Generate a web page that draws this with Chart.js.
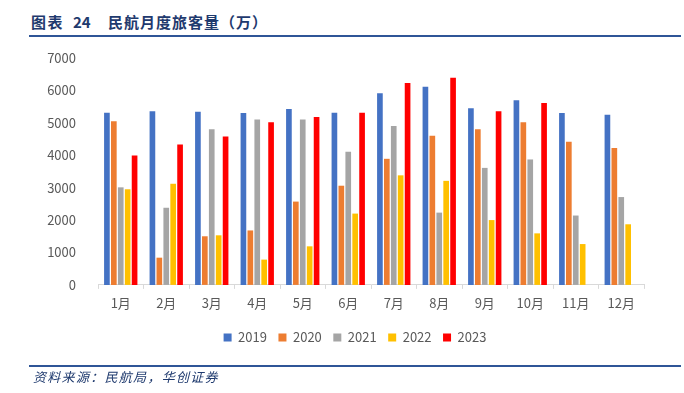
<!DOCTYPE html>
<html>
<head>
<meta charset="utf-8">
<script src="https://cdn.jsdelivr.net/npm/chart.js@4.4.1/dist/chart.umd.min.js"></script>
<style>
  body { margin: 0; background: #fff; }
  #wrap { position: relative; width: 684px; height: 393px; overflow: hidden; }
  .title { position: absolute; top: 12px; font: bold 15px "Noto Sans CJK SC", sans-serif; color: #1f3a6e; white-space: pre; line-height: 20px; }
  .rule { position: absolute; left: 29px; width: 652px; height: 2px; background: #2f5597; }
  #source { position: absolute; left: 33px; top: 367px; font: italic 13px "Noto Sans CJK SC", serif; color: #1f3a6e; letter-spacing: 1.3px; line-height: 20px; }
  canvas { position: absolute; left: 0; top: 0; }
</style>
</head>
<body>
<div id="wrap">
  <div class="title" style="left:31px; letter-spacing:1.5px">图表</div>
  <div class="title" style="left:73px">24</div>
  <div class="title" style="left:108px; letter-spacing:1px">民航月度旅客量（万）</div>
  <div class="rule" style="top:35px"></div>
  <canvas id="c" width="684" height="393"></canvas>
  <div class="rule" style="top:365px"></div>
  <div id="source">资料来源：民航局，华创证券</div>
</div>
<script>
const months = ["1月", "2月", "3月", "4月", "5月", "6月", "7月", "8月", "9月", "10月", "11月", "12月"];
const y2019 = [5310, 5360, 5340, 5300, 5430, 5310, 5910, 6110, 5450, 5700, 5300, 5250];
const y2020 = [5050, 840, 1500, 1680, 2570, 3060, 3890, 4600, 4800, 5020, 4420, 4220];
const y2021 = [3010, 2380, 4800, 5100, 5100, 4110, 4900, 2230, 3610, 3870, 2140, 2710];
const y2022 = [2950, 3120, 1530, 780, 1190, 2200, 3380, 3210, 2000, 1590, 1260, 1870];
const y2023 = [3990, 4330, 4580, 5020, 5180, 5310, 6230, 6390, 5360, 5610, null, null];

const tickColor = "#595959";
const font = { family: "'Noto Sans CJK SC', sans-serif", size: 13 };

// the legend sits a little right of centre in the original
const shiftLegend = {
  id: "shiftLegend",
  afterLayout(chart) {
    chart.legend.left += 13;
    chart.legend.right += 13;
  },
};

new Chart(document.getElementById("c").getContext("2d"), {
  type: "bar",
  data: {
    labels: months,
    datasets: [
      { label: "2019", data: y2019, backgroundColor: "#4472C4" },
      { label: "2020", data: y2020, backgroundColor: "#ED7D31" },
      { label: "2021", data: y2021, backgroundColor: "#A5A5A5" },
      { label: "2022", data: y2022, backgroundColor: "#FFC000" },
      { label: "2023", data: y2023, backgroundColor: "#FF0000" },
    ],
  },
  options: {
    responsive: false,
    animation: false,
    layout: { padding: { left: 40, right: 40, top: 58, bottom: 39 } },
    datasets: { bar: { categoryPercentage: 0.76, barPercentage: 0.82 } },
    plugins: {
      tooltip: { enabled: false },
      legend: {
        position: "bottom",
        labels: { boxWidth: 8, boxHeight: 8, padding: 11.5, color: tickColor, font: font },
      },
    },
    scales: {
      x: {
        afterFit: (s) => { s.height += 3; },
        grid: { drawOnChartArea: false, drawTicks: true, tickLength: 4, color: "#d9d9d9", offset: true },
        border: { color: "#d9d9d9", width: 1 },
        ticks: { color: tickColor, font: font, padding: 6 },
      },
      y: {
        min: 0,
        max: 7000,
        afterFit: (s) => { s.width = 58; },
        grid: { display: false },
        border: { display: false },
        ticks: { stepSize: 1000, color: tickColor, font: font, padding: 14, callback: (v) => String(v) },
      },
    },
  },
  plugins: [shiftLegend],
});
</script>
</body>
</html>
